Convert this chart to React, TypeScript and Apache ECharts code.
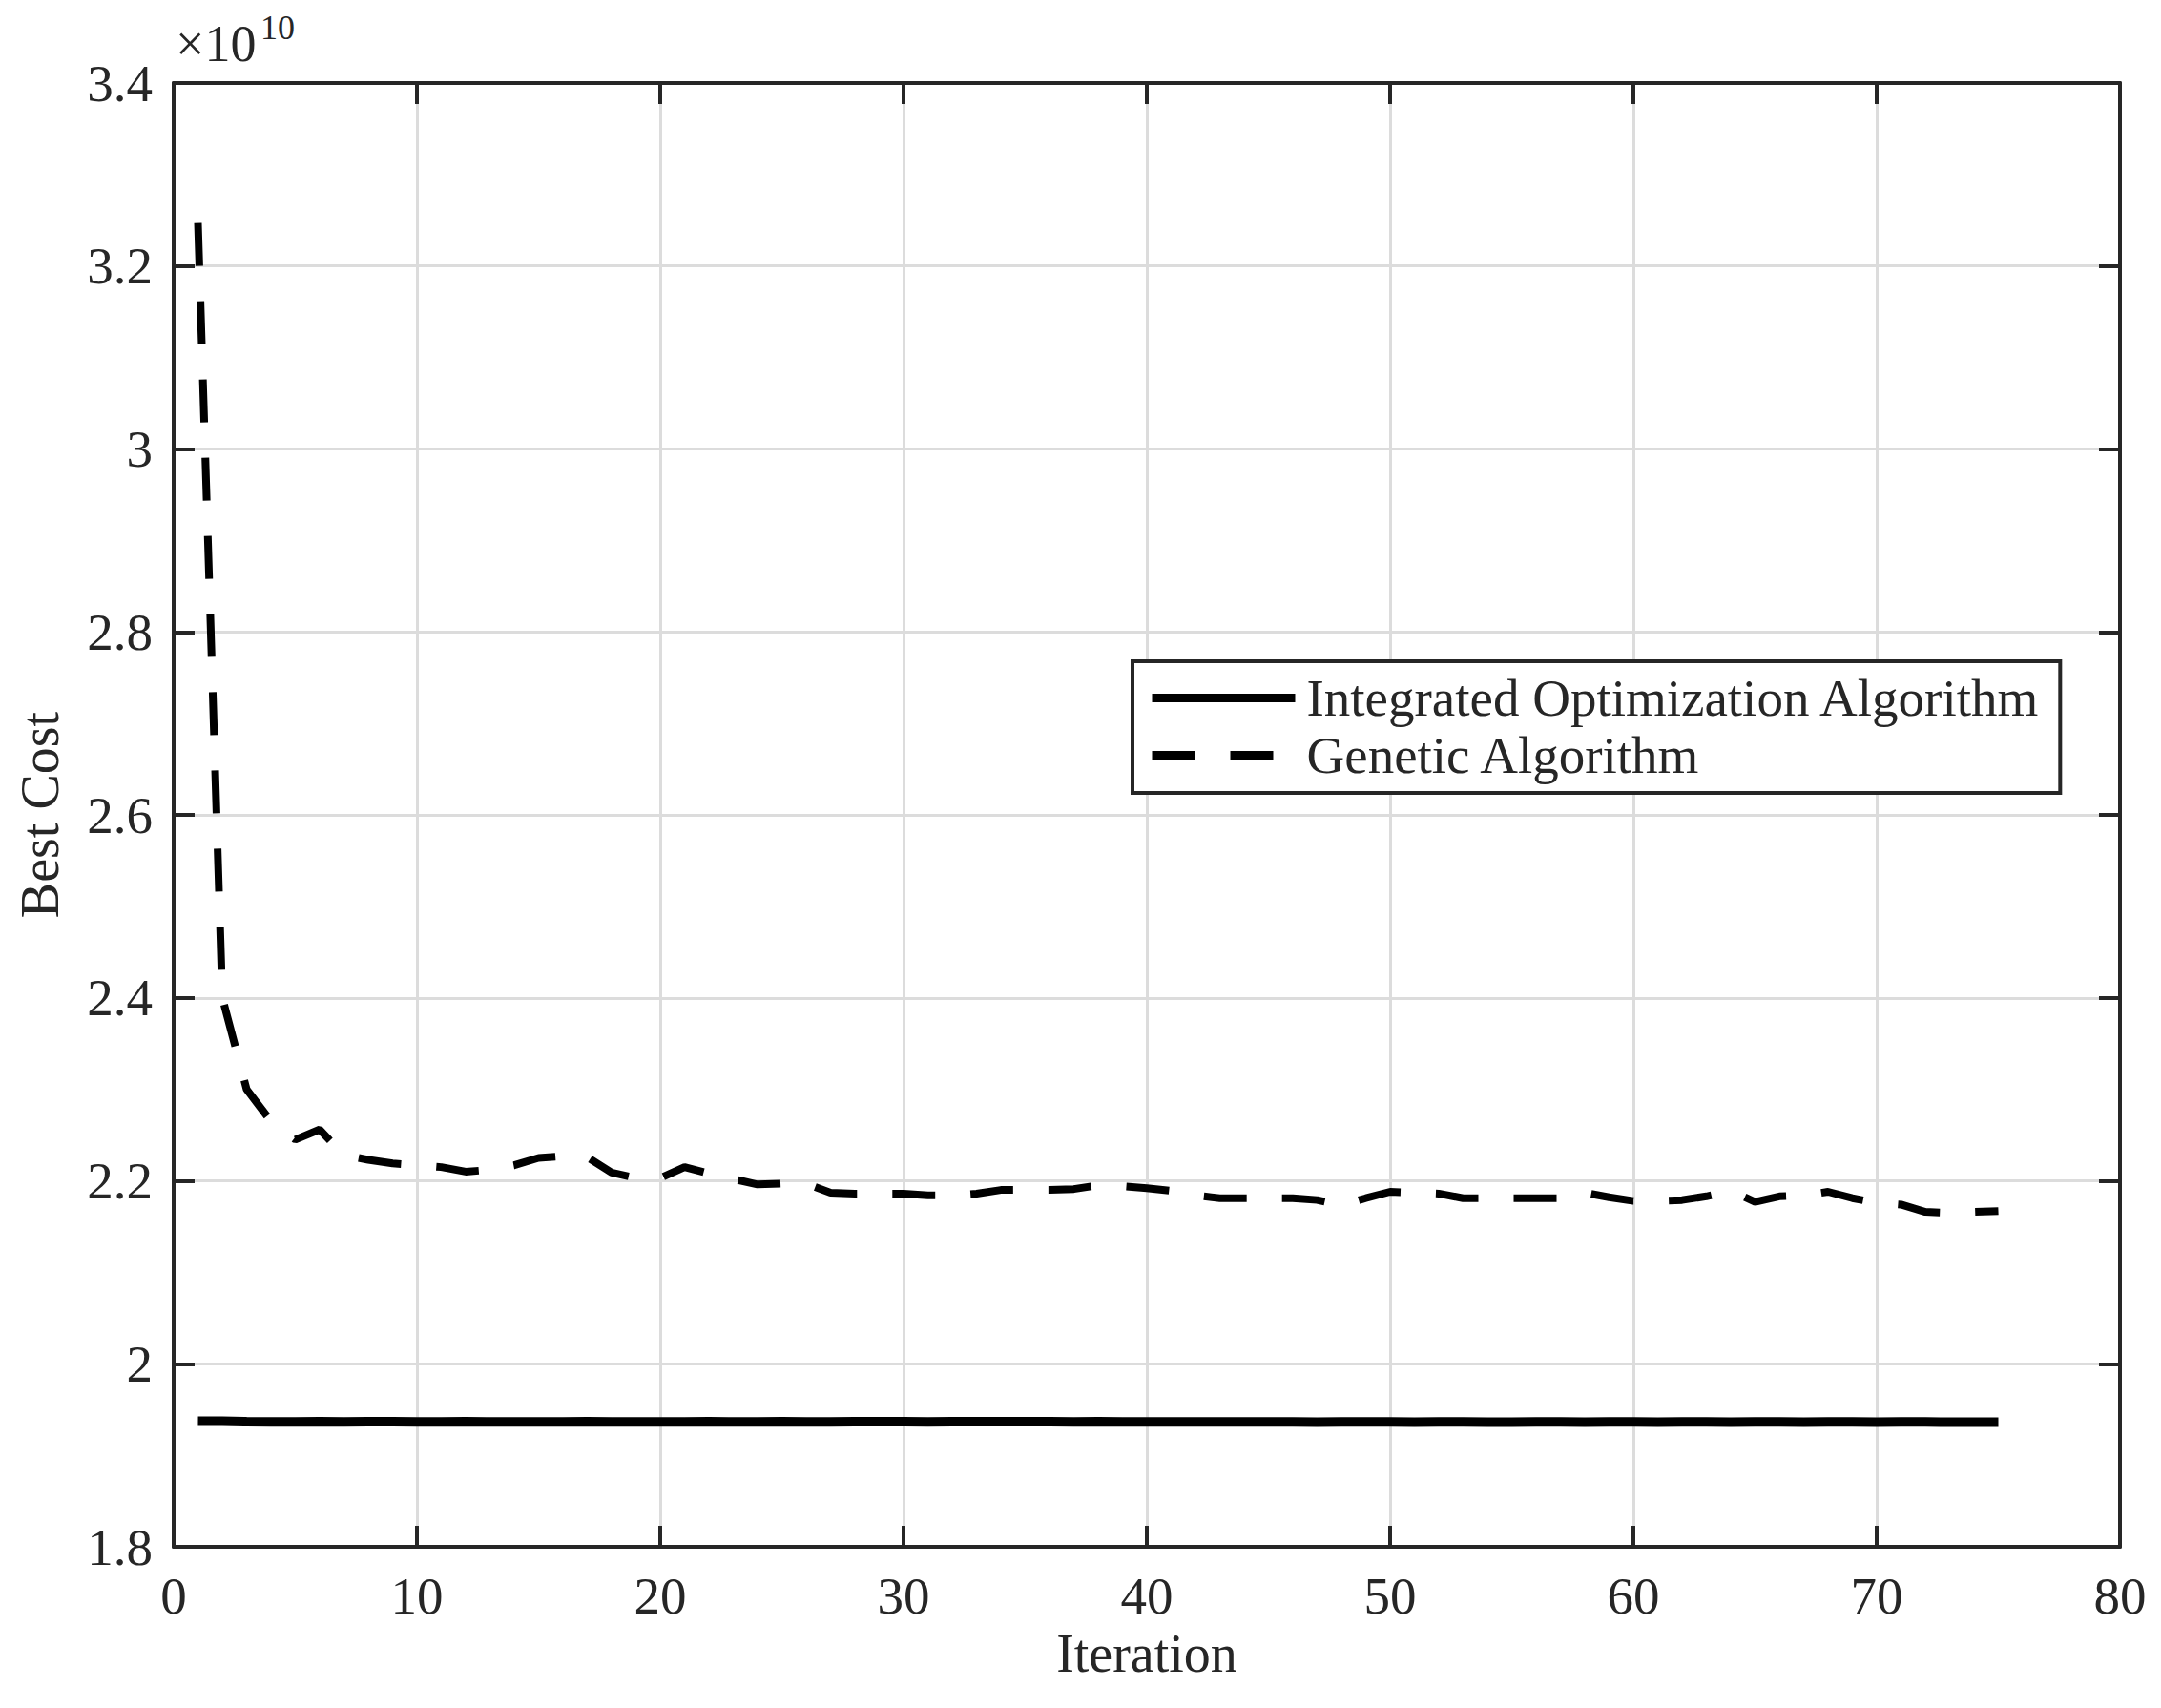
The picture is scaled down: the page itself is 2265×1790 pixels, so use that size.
import React, { useEffect, useRef } from "react";
import * as echarts from "echarts";

const iterations: number[] = Array.from({ length: 75 }, (_, i) => i + 1);

// Best cost in units of 1e10
const geneticAlgorithm: number[] = [
  3.247, 2.400, 2.300, 2.265, 2.245, 2.256, 2.228, 2.223, 2.219, 2.217,
  2.215, 2.210, 2.212, 2.217, 2.225, 2.227, 2.226, 2.209, 2.203, 2.203,
  2.215, 2.208, 2.202, 2.196, 2.197, 2.197, 2.187, 2.186, 2.186, 2.186,
  2.184, 2.184, 2.186, 2.190, 2.190, 2.190, 2.191, 2.195, 2.194, 2.192,
  2.189, 2.184, 2.181, 2.181, 2.181, 2.181, 2.179, 2.173, 2.181, 2.188,
  2.187, 2.186, 2.181, 2.181, 2.181, 2.181, 2.181, 2.187, 2.182, 2.178,
  2.178, 2.179, 2.183, 2.189, 2.177, 2.183, 2.184, 2.188, 2.181, 2.176,
  2.174, 2.166, 2.165, 2.166, 2.167,
];

const integratedAlgorithm: number[] = [
  1.9378, 1.9376, 1.9372, 1.9370, 1.9370, 1.9371, 1.9370, 1.9372, 1.9371, 1.9370,
  1.9370, 1.9371, 1.9370, 1.9369, 1.9370, 1.9370, 1.9371, 1.9370, 1.9369, 1.9369,
  1.9370, 1.9371, 1.9370, 1.9370, 1.9371, 1.9370, 1.9370, 1.9371, 1.9372, 1.9371,
  1.9370, 1.9371, 1.9372, 1.9371, 1.9372, 1.9371, 1.9370, 1.9371, 1.9370, 1.9369,
  1.9368, 1.9368, 1.9369, 1.9368, 1.9369, 1.9368, 1.9367, 1.9368, 1.9368, 1.9368,
  1.9367, 1.9368, 1.9368, 1.9367, 1.9367, 1.9368, 1.9368, 1.9367, 1.9368, 1.9368,
  1.9367, 1.9368, 1.9368, 1.9367, 1.9368, 1.9368, 1.9367, 1.9368, 1.9368, 1.9367,
  1.9368, 1.9368, 1.9367, 1.9367, 1.9367,
];

const seriesNames: string[] = ["Integrated Optimization Algorithm", "Genetic Algorithm"];
const xTicks = { min: 0, max: 80, interval: 10 };
const yTicks = { min: 1.8, max: 3.4, interval: 0.2 };

const FONT = "'Liberation Serif', 'Times New Roman', serif";
const INK = "#262626";

export default function App() {
  const ref = useRef<HTMLDivElement>(null);

  useEffect(() => {
    if (!ref.current) return;
    const chart = echarts.init(ref.current, undefined, { renderer: "svg" });

    const axisCommon = {
      axisLine: { show: true, onZero: false, lineStyle: { color: INK, width: 4 } },
      axisTick: { show: true, inside: true, length: 22, lineStyle: { color: INK, width: 4 } },
    };

    const option: any = {
      animation: false,
      backgroundColor: "#ffffff",
      grid: { left: 182, top: 87, right: 43, bottom: 169, containLabel: false },
      xAxis: [
        {
          type: "value",
          ...xTicks,
          position: "bottom",
          ...axisCommon,
          axisLabel: {
            color: INK,
            fontFamily: FONT,
            fontSize: 55,
            margin: 24,
          },
          splitLine: { show: true, lineStyle: { color: "#dcdcdc", width: 3 } },
          name: "Iteration",
          nameLocation: "middle",
          nameGap: 84,
          nameTextStyle: { color: INK, fontFamily: FONT, fontSize: 56 },
        },
        {
          type: "value",
          ...xTicks,
          position: "top",
          ...axisCommon,
          axisLabel: { show: false },
          splitLine: { show: false },
        },
      ],
      yAxis: [
        {
          type: "value",
          ...yTicks,
          position: "left",
          ...axisCommon,
          axisLabel: {
            color: INK,
            fontFamily: FONT,
            fontSize: 55,
            margin: 22,
            formatter: (v: number) => String(Math.round(v * 10) / 10),
          },
          splitLine: { show: true, lineStyle: { color: "#dcdcdc", width: 3 } },
          name: "Best Cost",
          nameLocation: "middle",
          nameGap: 112,
          nameTextStyle: { color: INK, fontFamily: FONT, fontSize: 56 },
        },
        {
          type: "value",
          ...yTicks,
          position: "right",
          ...axisCommon,
          axisLabel: { show: false },
          splitLine: { show: false },
        },
      ],
      legend: {
        orient: "vertical",
        left: 1187,
        top: 693,
        padding: [11, 20, 12, 16],
        itemGap: 5,
        itemWidth: 150,
        itemHeight: 14,
        borderColor: INK,
        borderWidth: 4,
        backgroundColor: "#ffffff",
        data: seriesNames,
        itemStyle: { opacity: 0 },
        lineStyle: { width: 9, color: "#000000" },
        textStyle: {
          color: INK,
          fontFamily: FONT,
          fontSize: 55,
          lineHeight: 55,
          padding: [0, 0, 0, 7],
        },
      },
      graphic: [
        {
          type: "text",
          x: 184,
          y: 46,
          style: {
            text: "×10",
            font: `54px ${FONT}`,
            fill: INK,
            textVerticalAlign: "middle",
          },
        },
        {
          type: "text",
          x: 273,
          y: 29,
          style: {
            text: "10",
            font: `36px ${FONT}`,
            fill: INK,
            textVerticalAlign: "middle",
          },
        },
      ],
      series: [
        {
          name: seriesNames[0],
          type: "line",
          xAxisIndex: 0,
          yAxisIndex: 0,
          symbol: "none",
          data: iterations.map((it, i) => [it, integratedAlgorithm[i]]),
          lineStyle: { color: "#000000", width: 9, type: "solid" },
          itemStyle: { color: "#000000" },
        },
        {
          name: seriesNames[1],
          type: "line",
          xAxisIndex: 0,
          yAxisIndex: 0,
          symbol: "none",
          data: iterations.map((it, i) => [it, geneticAlgorithm[i]]),
          lineStyle: { color: "#000000", width: 8, type: [45, 37] },
          itemStyle: { color: "#000000" },
        },
      ],
    };

    chart.setOption(option);
    return () => chart.dispose();
  }, []);

  return (
    <div
      ref={ref}
      style={{ position: "fixed", left: 0, top: 0, width: 2265, height: 1790, background: "#fff" }}
    />
  );
}
